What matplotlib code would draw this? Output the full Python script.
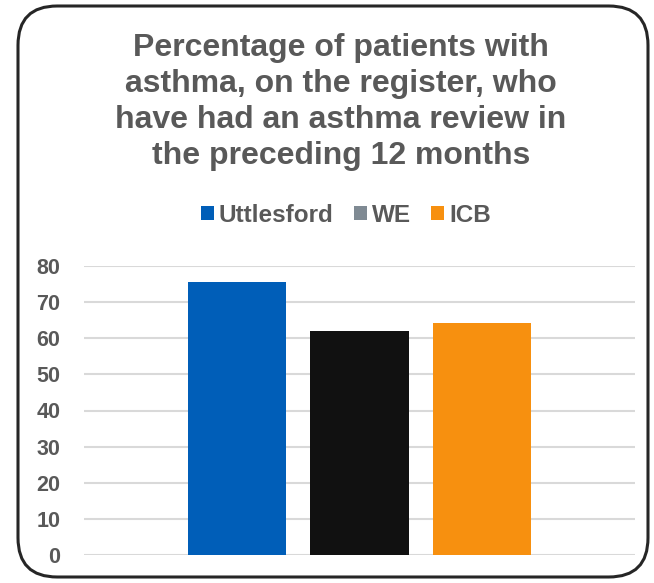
import matplotlib
matplotlib.use("Agg")
import matplotlib.pyplot as plt
from matplotlib.patches import FancyBboxPatch, Patch

series = ["Uttlesford", "WE", "ICB"]
values = [75.6, 61.9, 64.3]
bar_colors = ["#005EB8", "#111111", "#F7900F"]
legend_colors = ["#005EB8", "#7F8A93", "#F7900F"]
yticks = [0, 10, 20, 30, 40, 50, 60, 70, 80]
title = "Percentage of patients with\nasthma, on the register, who\nhave had an asthma review in\nthe preceding 12 months"

plt.rcParams['font.family'] = ['Liberation Sans', 'DejaVu Sans']
W, H = 654, 583
fig = plt.figure(figsize=(W/100, H/100), dpi=100)

# rounded frame
frame = FancyBboxPatch((18/W, 6/H), (648-18)/W, (577-6)/H,
                       boxstyle="round,pad=0,rounding_size=0.06",
                       transform=fig.transFigure, facecolor="white",
                       edgecolor="#262626", linewidth=2.2, mutation_aspect=W/H,
                       zorder=-10)
fig.patches.append(frame)

ax = fig.add_axes([84/W, 1-555/H, (635-84)/W, (555-266)/H])
ax.set_facecolor("none")
ax.set_zorder(5)
offsets = [-0.222, 0.0, 0.222]
for off, v, c in zip(offsets, values, bar_colors):
    ax.bar(off, v, width=0.178, color=c, zorder=3)
ax.set_xlim(-0.5, 0.5)
ax.set_ylim(0, 80)
ax.set_yticks(yticks)
ax.set_yticklabels([str(t) for t in yticks], fontsize=15.5, fontweight="bold", color="#595959")
ax.set_xticks([])
ax.grid(axis="y", color="#D9D9D9", linewidth=1.5, zorder=0)
for s in ax.spines.values():
    s.set_visible(False)
ax.tick_params(axis="y", length=0, pad=17)

fig.text(341/W, 1-102/H, title, ha="center", va="center", fontsize=23,
         fontweight="bold", color="#595959", linespacing=1.27)

handles = [Patch(facecolor=c, edgecolor="none") for c in legend_colors]
leg = fig.legend(handles, series, loc="center", bbox_to_anchor=(346/W, 1-215/H),
                 ncol=3, frameon=False, handlelength=0.52, handleheight=0.52,
                 handletextpad=0.2, columnspacing=0.85,
                 prop={"size": 17.5, "weight": "bold"})
for t in leg.get_texts():
    t.set_color("#595959")

fig.savefig("out.png", dpi=100)
